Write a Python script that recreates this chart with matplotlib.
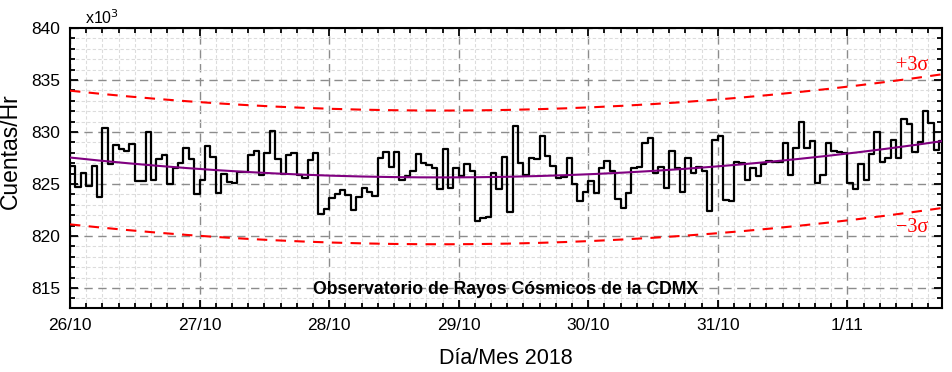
import numpy as np
import matplotlib
matplotlib.use("Agg")
import matplotlib.pyplot as plt
from matplotlib.ticker import MultipleLocator

# Hourly counts (x10^3) starting 26/10/2018 00:00
counts = [
    826.73, 824.68, 826.03, 824.81, 826.73, 823.78, 830.38, 826.89, 828.75, 828.33,
    828.17, 828.85, 825.26, 825.26, 830.00, 825.38, 827.37, 827.79, 825.00, 826.50,
    826.99, 828.49, 827.37, 824.04,
    825.38, 828.65, 827.63, 824.17, 825.96, 825.22, 825.13, 826.19, 826.19, 827.79,
    828.17, 825.87, 827.95, 830.10, 827.37, 825.96, 827.79, 827.95, 825.87, 825.54,
    827.31, 827.95, 822.08, 822.56,
    823.62, 824.01, 824.42, 823.94, 822.50, 823.78, 824.58, 824.26, 823.85, 827.47,
    828.11, 826.67, 828.11, 825.38, 825.77, 826.25, 827.85, 827.05, 826.83, 826.50,
    824.49, 828.33, 824.58, 826.50,
    825.77, 826.89, 826.28, 821.44, 821.70, 821.86, 826.09, 824.49, 827.56, 822.34,
    830.61, 826.99, 825.87, 827.47, 827.37, 829.62, 827.69, 826.73, 825.54, 825.71,
    827.47, 824.97, 823.37, 824.26,
    825.29, 824.17, 826.50, 827.21, 826.28, 823.56, 822.66, 824.10, 826.50, 826.67,
    828.97, 829.46, 826.09, 826.67, 824.65, 828.21, 826.50, 824.26, 827.47, 826.09,
    826.67, 826.28, 822.44, 829.23,
    829.62, 823.46, 823.37, 827.15, 826.99, 825.38, 826.50, 825.77, 826.89, 827.21,
    827.08, 827.15, 828.91, 825.87, 828.43, 830.99, 828.43, 829.17, 825.13, 825.87,
    828.97, 828.17, 828.11, 828.01,
    825.13, 824.49, 826.89, 825.38, 827.88, 830.00, 827.15, 827.47, 829.23, 827.53,
    831.25, 830.74, 828.04, 829.01, 832.05, 830.83, 828.27, 829.13,
]

# Fit curve values read at day marks
fit_days = [0, 1, 2, 3, 4, 5, 6, 6.73]
fit_vals = [827.56, 826.44, 825.74, 825.67, 825.96, 826.67, 827.95, 829.10]
three_sigma = 6.43

day_labels = ["26/10", "27/10", "28/10", "29/10", "30/10", "31/10", "1/11"]
y_ticks = [815, 820, 825, 830, 835, 840]

fig = plt.figure(figsize=(9.53, 3.72), dpi=100)
ax = fig.add_axes([70/953, 1-308/372, (942-70)/953, (308-28)/372])

t = np.arange(len(counts) + 1) / 24.0
vals = np.append(counts, counts[-1])

coef = np.polyfit(fit_days, fit_vals, 2)
tt = np.linspace(0, 6.73, 300)
fit = np.polyval(coef, tt)

ax.set_xlim(0, 6.73)
ax.set_ylim(813.07, 840)

ax.xaxis.set_minor_locator(MultipleLocator(1/8))
ax.set_yticks(y_ticks)
ax.yaxis.set_minor_locator(MultipleLocator(1))
ax.set_xticks(range(len(day_labels)))
ax.set_xticklabels(day_labels)

ax.grid(which="minor", color="#dcdcdc", linestyle=(0, (3, 2)), linewidth=0.8)
ax.grid(which="major", color="#8c8c8c", linestyle=(0, (6, 4)), linewidth=1.0)
ax.set_axisbelow(True)

ax.step(t, vals, where="post", color="black", linewidth=1.6, zorder=3)
ax.plot(tt, fit, color="#800080", linewidth=1.5, zorder=4)
ax.plot(tt, fit + three_sigma, color="#ff0000", linewidth=1.5, linestyle=(0, (5, 4)), zorder=4)
ax.plot(tt, fit - three_sigma, color="#ff0000", linewidth=1.5, linestyle=(0, (5, 4)), zorder=4)

for s in ax.spines.values():
    s.set_linewidth(1.5)
ax.tick_params(which="both", direction="in", top=True, right=True, width=1.3)
ax.tick_params(which="major", length=6, labelsize=12.5, pad=7)
ax.tick_params(which="minor", length=3.5)
for lab in ax.get_xticklabels() + ax.get_yticklabels():
    lab.set_family("Liberation Sans")

ax.set_ylabel("Cuentas/Hr", fontsize=16.5, family="Liberation Sans")
ax.yaxis.set_label_coords(-0.055, 0.56)
ax.set_xlabel("Día/Mes 2018", fontsize=15.5, family="Liberation Sans", labelpad=11)

ax.text(0.017, 1.004, r"x10$^3$", transform=ax.transAxes, fontsize=11.5,
        family="Liberation Sans", va="bottom", ha="left")
ax.text(0.5, 0.066, "Observatorio de Rayos Cósmicos de la CDMX", transform=ax.transAxes,
        fontsize=12.7, fontweight="bold", family="Liberation Sans", ha="center", va="center")
ax.text(0.984, 0.866, "+3σ", transform=ax.transAxes, color="#ff0000", fontsize=14.5,
        family="Liberation Serif", ha="right", va="center")
ax.text(0.984, 0.286, "\u22123σ", transform=ax.transAxes, color="#ff0000", fontsize=14.5,
        family="Liberation Serif", ha="right", va="center")

fig.savefig("out.png", dpi=100)
